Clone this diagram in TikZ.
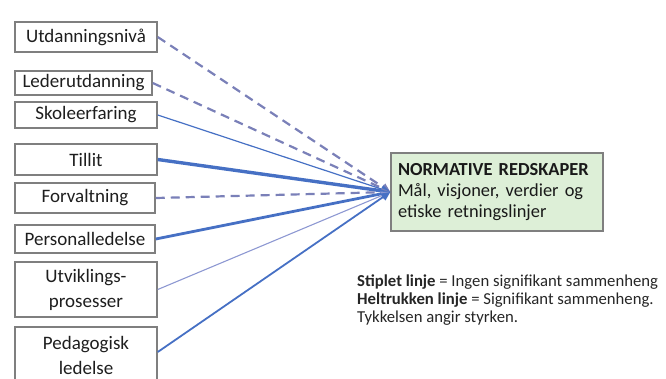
\documentclass[tikz,border=0pt]{standalone}
\usepackage{fontspec}
\setmainfont{Carlito}
\usetikzlibrary{arrows.meta}

\definecolor{boxline}{HTML}{7F7F7F}
\definecolor{boxtext}{HTML}{1E1E1E}
\definecolor{dashblue}{HTML}{7A80B8}
\definecolor{solidblue}{HTML}{4670C4}
\definecolor{lightblue}{HTML}{8D98D2}
\definecolor{greenfill}{HTML}{DDEFD7}

\tikzset{
  factor/.style={draw=boxline, line width=1.5pt, fill=white, text=boxtext,
    minimum width=142pt, inner sep=0pt, align=center,
    font=\fontsize{19}{25}\selectfont},
  target/.style={draw=boxline, line width=1.3pt, fill=greenfill, text=black!90,
    minimum width=212pt, minimum height=78pt, inner sep=0pt,
    text width=198pt, align=left, font=\fontsize{18.4}{21}\selectfont},
  link/.style={-{Triangle[length=9pt,width=8pt]}},
  nosig/.style={link, dashblue, line width=2.2pt, dash pattern=on 9pt off 6pt},
  sig/.style={link, solidblue},
}

\begin{document}
\begin{tikzpicture}[x=1pt, y=-1pt]
  \useasboundingbox (0,0) rectangle (666,378);
  \clip (0,0) rectangle (666,378);

  % factors on the left
  \node[factor, minimum height=30pt] (utd)  at (86,37)    {Utdanningsnivå};
  \node[factor, minimum height=24pt, minimum width=137pt] (led) at (83.5,83) {Lederutdanning};
  \node[factor, minimum height=26pt] (sko)  at (86,115)   {Skoleerfaring};
  \node[factor, minimum height=31pt] (til)  at (86,159.5) {Tillit};
  \node[factor, minimum height=30pt, minimum width=140pt] (for) at (85,198) {Forvaltning};
  \node[factor, minimum height=28pt, minimum width=140pt] (per) at (85,239) {Personalledelse};
  \node[factor, minimum height=55pt] (utv)  at (86,289.5) {Utviklings-\\prosesser};
  \node[factor, minimum height=56pt] (ped)  at (86,355)   {Pedagogisk\\ledelse};

  % outcome box
  \node[target] (norm) at (497,192)
    {\textbf{NORMATIVE REDSKAPER}\\Mål, visjoner, verdier og\\etiske retningslinjer};

  % connectors: dashed = not significant, solid width = strength
  \draw[nosig] (utd.east) -- (norm.west);
  \draw[nosig] (led.east) -- (norm.west);
  \draw[sig, line width=1.2pt] (sko.east) -- (norm.west);
  \draw[sig, line width=3.4pt] (til.east) -- (norm.west);
  \draw[nosig] (for.east) -- (norm.west);
  \draw[sig, line width=2.8pt] (per.east) -- (norm.west);
  \draw[link, lightblue, line width=1.1pt] (utv.east) -- (norm.west);
  \draw[sig, line width=1.8pt] (ped.east |- 0,352) -- (norm.west);

  % legend
  \node[anchor=west, inner sep=0pt, align=left, text=black!85,
        font=\fontsize{16.7}{18}\selectfont] (legend) at (357,300)
    {\textbf{Stiplet linje} = Ingen signifikant sammenheng\\
     \textbf{Heltrukken linje} = Signifikant sammenheng.\\
     Tykkelsen angir styrken.};
\end{tikzpicture}
\end{document}
